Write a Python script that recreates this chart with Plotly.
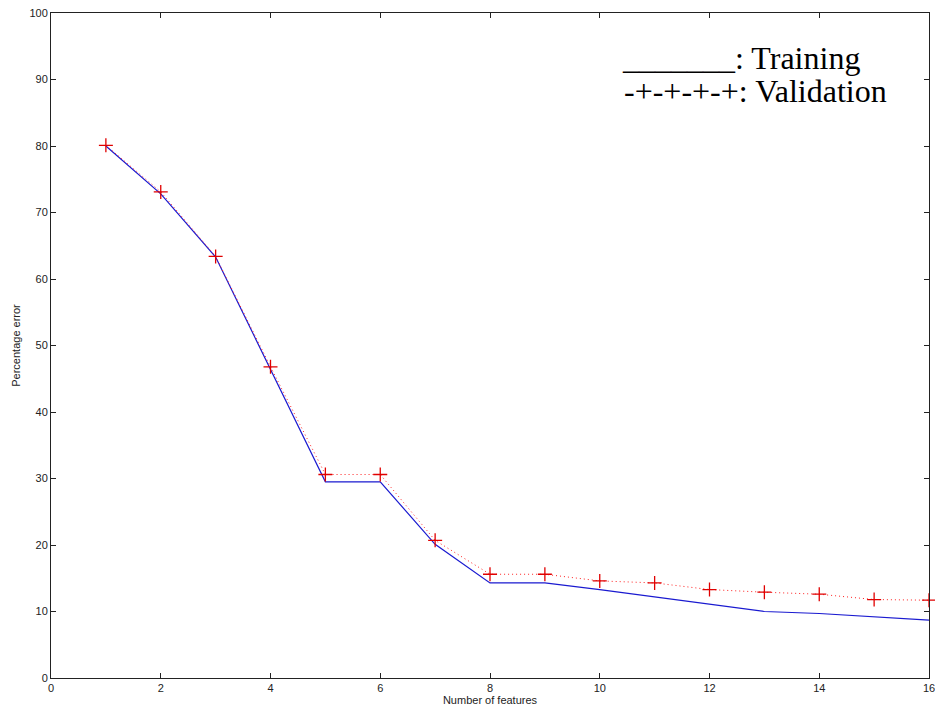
import plotly.graph_objects as go

features = list(range(1, 17))
training = [80.0, 72.8, 63.3, 46.5, 29.5, 29.5, 20.1, 14.3, 14.3, 13.3, 12.2, 11.1, 10.0, 9.7, 9.2, 8.7]
validation = [80.1, 73.1, 63.4, 46.8, 30.6, 30.6, 20.7, 15.6, 15.6, 14.6, 14.3, 13.3, 12.9, 12.6, 11.8, 11.7]

x_ticks = [0, 2, 4, 6, 8, 10, 12, 14, 16]
y_ticks = [0, 10, 20, 30, 40, 50, 60, 70, 80, 90, 100]

fig = go.Figure()
fig.add_trace(go.Scatter(x=features, y=training, mode="lines",
                         line=dict(color="#1a1ad0", width=1.2), showlegend=False))
fig.add_trace(go.Scatter(x=features, y=validation, mode="lines+markers",
                         line=dict(color="#ff2020", width=1, dash="1px,3px"),
                         marker=dict(symbol="cross-thin", size=10,
                                     line=dict(color="#e00000", width=1.3)),
                         showlegend=False, cliponaxis=False))

axis_common = dict(showline=True, linecolor="#222", linewidth=1, mirror="ticks",
                   ticks="inside", ticklen=5, tickcolor="#222", showgrid=False,
                   zeroline=False, ticklabeloverflow="allow", automargin=False,
                   tickfont=dict(family="Liberation Sans", size=11, color="#222"))

fig.update_xaxes(range=[0, 16], tickvals=x_ticks,
                 title=dict(text="Number of features", font=dict(family="Liberation Sans", size=11, color="#222"), standoff=2),
                 **axis_common)
fig.update_yaxes(range=[0, 100], tickvals=y_ticks,
                 title=dict(text="Percentage error", font=dict(family="Liberation Sans", size=11, color="#222"), standoff=6),
                 **axis_common)

fig.add_annotation(x=620, y=58, xref="paper", yref="paper", text="_______: Training",
                   showarrow=False, xanchor="left", yanchor="middle",
                   font=dict(family="Liberation Serif", size=32, color="black"))
fig.add_annotation(x=622, y=91, xref="paper", yref="paper", text="-+-+-+-+: Validation",
                   showarrow=False, xanchor="left", yanchor="middle",
                   font=dict(family="Liberation Serif", size=32, color="black"))

# convert pixel positions of annotations to paper coords
L, R, T, B = 51, 6, 13, 34
W, H = 935, 712
pw, ph = W - L - R, H - T - B
for a in fig.layout.annotations:
    a.x = (a.x - L) / pw
    a.y = 1 - (a.y - T) / ph

fig.update_layout(width=W, height=H, margin=dict(l=L, r=R, t=T, b=B),
                  plot_bgcolor="white", paper_bgcolor="white")

fig.write_html("out.html")
